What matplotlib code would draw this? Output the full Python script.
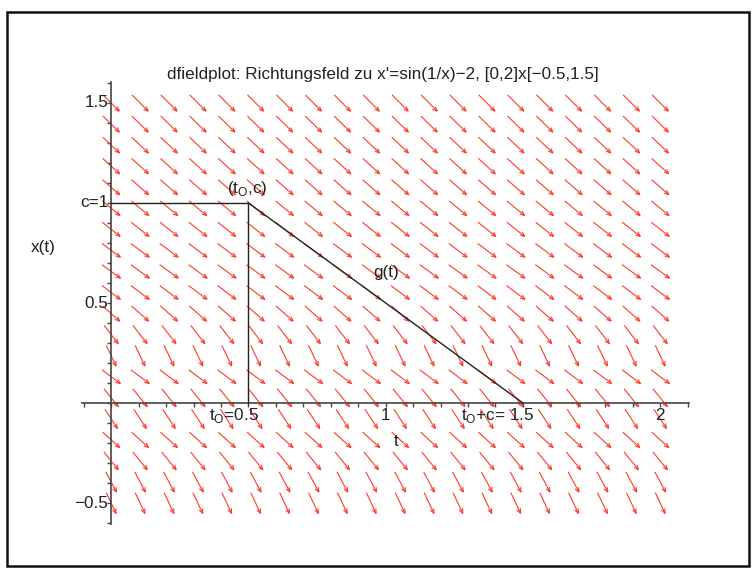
import numpy as np
import matplotlib
matplotlib.use('Agg')
import matplotlib.pyplot as plt
from matplotlib.collections import LineCollection
from matplotlib.patches import Rectangle
from matplotlib.ticker import MultipleLocator, FixedLocator

plt.rcParams['font.family'] = ['Liberation Sans', 'DejaVu Sans']
plt.rcParams['mathtext.fontset'] = 'custom'
plt.rcParams['mathtext.rm'] = 'Liberation Sans'

# arrow grid (20 x 20, as in Maple's dfieldplot)
t_grid = np.linspace(0, 2, 20)
x_grid = np.linspace(-0.5, 1.5, 20)
# slope of the field in each row (bottom to top)
row_slopes = [-2.91, -2.57, -1.69, -1.25, -2.10, -1.70, -1.03, -2.88, -1.78, -1.21,
              -1.03, -1.00, -1.03, -1.09, -1.14, -1.20, -1.25, -1.30, -1.34, -1.38]

# solution sketch
box_t = [0, 0.5, 0.5]
box_x = [1, 1, 0]
g_t = [0.5, 1.5]
g_x = [1, 0]

xlim = (-0.105, 2.105)
ylim = (-0.605, 1.605)

fig = plt.figure(figsize=(7.56, 5.71), dpi=100)
ax = fig.add_axes([0.1089, 0.0823, 0.8025, 0.7741])
ax.set_xlim(*xlim)
ax.set_ylim(*ylim)

# pixel scale of the axes
sx = 0.8025 * 756 / (xlim[1] - xlim[0])
sy = 0.7741 * 571 / (ylim[1] - ylim[0])

L = 23.0      # arrow length in px
H = 5.0       # head barb length in px
ang = np.radians(22)

segs = []
for xv, s in zip(x_grid, row_slopes):
    ux, uy = 1.0, s * sy / sx
    n = np.hypot(ux, uy)
    ux, uy = ux / n, uy / n
    for tv in t_grid:
        t0 = tv - 0.5 * L * ux / sx
        x0 = xv - 0.5 * L * uy / sy
        t1 = tv + 0.5 * L * ux / sx
        x1 = xv + 0.5 * L * uy / sy
        segs.append([(t0, x0), (t1, x1)])
        for a in (ang, -ang):
            bx = -ux * np.cos(a) - uy * np.sin(a)
            by = ux * np.sin(a) - uy * np.cos(a)
            segs.append([(t1, x1), (t1 + H * bx / sx, x1 + H * by / sy)])

ax.add_collection(LineCollection(segs, colors='#ff3a2a', linewidths=0.8, clip_on=False, zorder=2))

ax.plot(box_t, box_x, color='#222222', lw=1.0, zorder=3)
ax.plot(g_t, g_x, color='#222222', lw=1.0, zorder=3)

# axes through the origin
for side in ('top', 'right'):
    ax.spines[side].set_visible(False)
ax.spines['left'].set_position(('data', 0))
ax.spines['bottom'].set_position(('data', 0))
for side in ('left', 'bottom'):
    ax.spines[side].set_color('#444444')
    ax.spines[side].set_linewidth(1.2)

ax.xaxis.set_major_locator(FixedLocator([0.5, 1, 1.5, 2]))
ax.xaxis.set_minor_locator(MultipleLocator(0.1))
ax.yaxis.set_major_locator(FixedLocator([-0.5, 0.5, 1, 1.5]))
ax.yaxis.set_minor_locator(MultipleLocator(0.1))
ax.tick_params(which='both', direction='out', length=3, width=1, color='#444444',
               labelbottom=False, labelleft=False)

fs = 12.3
# x tick labels
xlabels = [(0.5, 't$_\\mathregular{O}$=0.5', 'right', 10),
           (1, '1', 'center', 0),
           (1.5, 't$_\\mathregular{O}$+c= 1.5', 'right', 11),
           (2, '2', 'center', 0)]
for xv, txt, ha, dx in xlabels:
    ax.annotate(txt, (xv, 0), xytext=(dx, -12), textcoords='offset pixels',
                ha=ha, va='center', fontsize=fs, color='#222222')

ylabels = [(1.5, '1.5'), (1, 'c=1'), (0.5, '0.5'), (-0.5, '\u22120.5')]
for yv, txt in ylabels:
    ax.annotate(txt, (0, yv), xytext=(-3, 0), textcoords='offset pixels',
                ha='right', va='center', fontsize=fs, color='#222222')

ax.annotate('(t$_\\mathregular{O}$,c)', (0.5, 1), xytext=(-1, 14), textcoords='offset pixels',
            ha='center', va='center', fontsize=fs, color='#222222')
ax.annotate('g(t)', (1, 0.5), xytext=(0, 31), textcoords='offset pixels',
            ha='center', va='center', fontsize=fs, color='#222222')

fig.text(396 / 756, 1 - 441 / 571, 't', ha='center', va='center', fontsize=fs, color='#222222')
fig.text(43 / 756, 1 - 247 / 571, 'x(t)', ha='center', va='center', fontsize=fs, color='#222222')
fig.text(382.5 / 756, 1 - 75 / 571,
         "dfieldplot: Richtungsfeld zu x'=sin(1/x)\u22122, [0,2]x[\u22120.5,1.5]",
         ha='center', va='center', fontsize=fs, color='#222222')

fig.patches.append(Rectangle((7 / 756, 5 / 571), 742 / 756, 554 / 571,
                             transform=fig.transFigure, fill=False,
                             edgecolor='#111111', linewidth=1.8))

fig.savefig('out.png', dpi=100)
